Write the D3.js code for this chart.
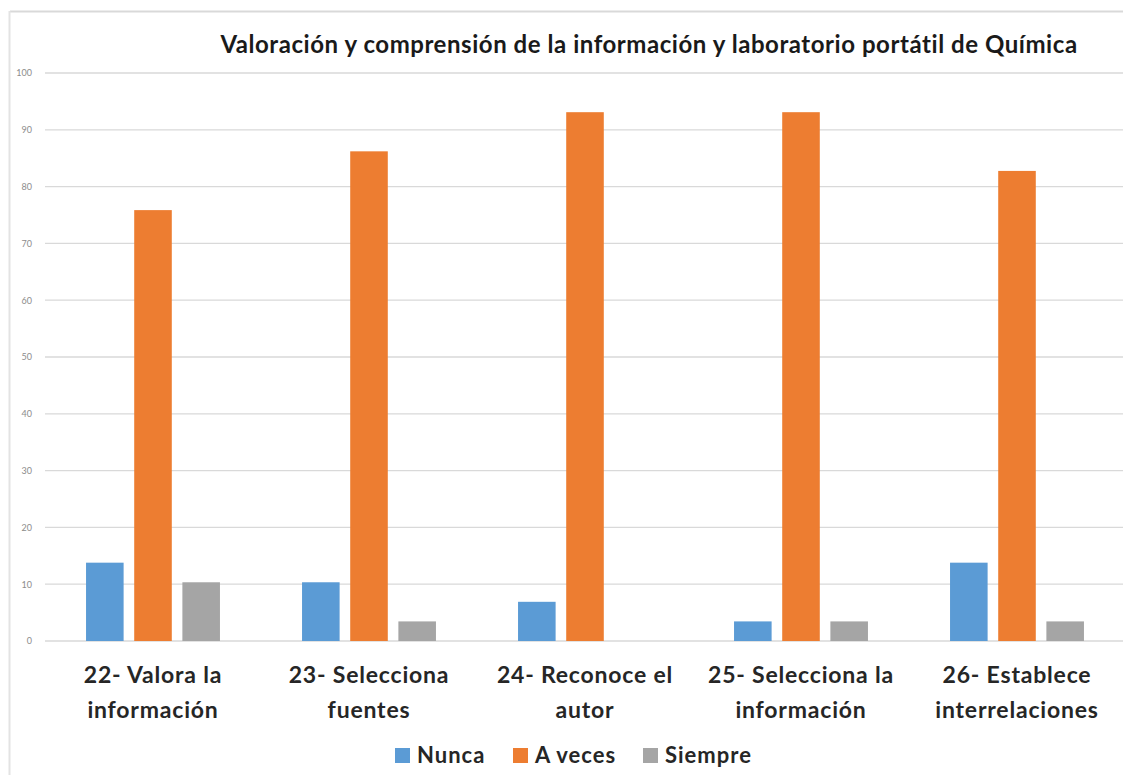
<!DOCTYPE html>
<html>
<head>
<meta charset="utf-8">
<script src="https://cdn.jsdelivr.net/npm/d3@7"></script>
<style>
  body { margin: 0; background: #fff; }
  svg { display: block; }
</style>
</head>
<body>
<div id="chart"></div>
<script>
// data (percent of 29 answers)
var categories = [
  ["22- Valora la", "información"],
  ["23- Selecciona", "fuentes"],
  ["24- Reconoce el", "autor"],
  ["25- Selecciona la", "información"],
  ["26- Establece", "interrelaciones"]
];
var seriesNames = ["Nunca", "A veces", "Siempre"];
var nunca   = [13.79, 10.34, 6.90, 3.45, 13.79];
var aVeces  = [75.86, 86.21, 93.10, 93.10, 82.76];
var siempre = [10.34, 3.45, 0, 3.45, 3.45];
var yTicks = [0, 10, 20, 30, 40, 50, 60, 70, 80, 90, 100];
var colors = ["#5b9bd5", "#ed7d31", "#a5a5a5"];

var W = 1123, H = 775;
var margin = {top: 73, right: -2, bottom: 134, left: 45};
var width = W - margin.left - margin.right;
var height = H - margin.top - margin.bottom;

var svg = d3.select("#chart").append("svg")
  .attr("width", W)
  .attr("height", H);

// frame lines of the scanned chart
svg.append("line")
  .attr("x1", 10).attr("x2", W).attr("y1", 11.5).attr("y2", 11.5)
  .attr("stroke", "#d9d9d9").attr("stroke-width", 2);
svg.append("line")
  .attr("x1", 9.5).attr("x2", 9.5).attr("y1", 11).attr("y2", H)
  .attr("stroke", "#e3e3e3").attr("stroke-width", 2);

svg.append("text")
  .attr("x", 649)
  .attr("y", 53)
  .attr("text-anchor", "middle")
  .style("font-family", "Lato, sans-serif")
  .style("font-weight", 700)
  .style("font-size", "24px")
  .style("letter-spacing", "0.55px")
  .style("fill", "#1a1a1a")
  .text("Valoración y comprensión de la información y laboratorio portátil de Química");

var g = svg.append("g")
  .attr("transform", "translate(" + margin.left + "," + margin.top + ")");

var y = d3.scaleLinear().domain([0, 100]).range([height, 0]);

var x0 = d3.scaleBand()
  .domain(d3.range(categories.length))
  .range([0, width])
  .paddingInner(0.38)
  .paddingOuter(0.19);

var x1 = d3.scaleBand()
  .domain(seriesNames)
  .range([0, x0.bandwidth()])
  .paddingInner(0.22);

// gridlines
g.selectAll(".grid")
  .data(yTicks)
  .enter().append("line")
  .attr("x1", 0).attr("x2", width)
  .attr("y1", function(d) { return y(d); })
  .attr("y2", function(d) { return y(d); })
  .attr("stroke", "#d9d9d9")
  .attr("stroke-width", 1.3);

// y axis labels
var yAxis = g.append("g")
  .attr("transform", "translate(-10,0)")
  .call(d3.axisLeft(y).tickValues(yTicks).tickSize(0));
yAxis.select(".domain").remove();
yAxis.selectAll("text")
  .style("font-family", "Lato, sans-serif")
  .style("font-size", "9px")
  .style("fill", "#8c8c8c");

var rows = categories.map(function(c, i) {
  return {i: i, vals: [nunca[i], aVeces[i], siempre[i]]};
});

var groups = g.selectAll(".grp")
  .data(rows)
  .enter().append("g")
  .attr("transform", function(d) { return "translate(" + x0(d.i) + ",0)"; });

groups.selectAll("rect")
  .data(function(d) {
    return d.vals.map(function(v, k) { return {name: seriesNames[k], value: v, k: k}; });
  })
  .enter().append("rect")
  .attr("x", function(d) { return x1(d.name); })
  .attr("width", x1.bandwidth())
  .attr("y", function(d) { return y(d.value); })
  .attr("height", function(d) { return y(0) - y(d.value); })
  .attr("fill", function(d) { return colors[d.k]; });

// category labels, two lines each
var xAxis = g.append("g")
  .attr("transform", "translate(0," + height + ")");
xAxis.selectAll("text")
  .data(rows)
  .enter().append("text")
  .attr("x", function(d) { return x0(d.i) + x0.bandwidth() / 2; })
  .attr("y", 42)
  .attr("text-anchor", "middle")
  .style("font-family", "Lato, sans-serif")
  .style("font-weight", 700)
  .style("font-size", "23px")
  .style("letter-spacing", "0.8px")
  .style("fill", "#262626")
  .each(function(d) {
    var t = d3.select(this);
    categories[d.i].forEach(function(line, j) {
      t.append("tspan")
        .attr("x", x0(d.i) + x0.bandwidth() / 2)
        .attr("dy", j === 0 ? 0 : 35)
        .text(line);
    });
  });

// legend
var legendX = [395, 513, 643];
var legend = svg.selectAll(".leg")
  .data(seriesNames)
  .enter().append("g")
  .attr("transform", function(d, i) { return "translate(" + legendX[i] + ",748)"; });
legend.append("rect")
  .attr("width", 15).attr("height", 15)
  .attr("fill", function(d, i) { return colors[i]; });
legend.append("text")
  .attr("x", 22).attr("y", 15)
  .style("font-family", "Lato, sans-serif")
  .style("font-weight", 700)
  .style("font-size", "22px")
  .style("letter-spacing", "1px")
  .style("fill", "#262626")
  .text(function(d) { return d; });
</script>
</body>
</html>
